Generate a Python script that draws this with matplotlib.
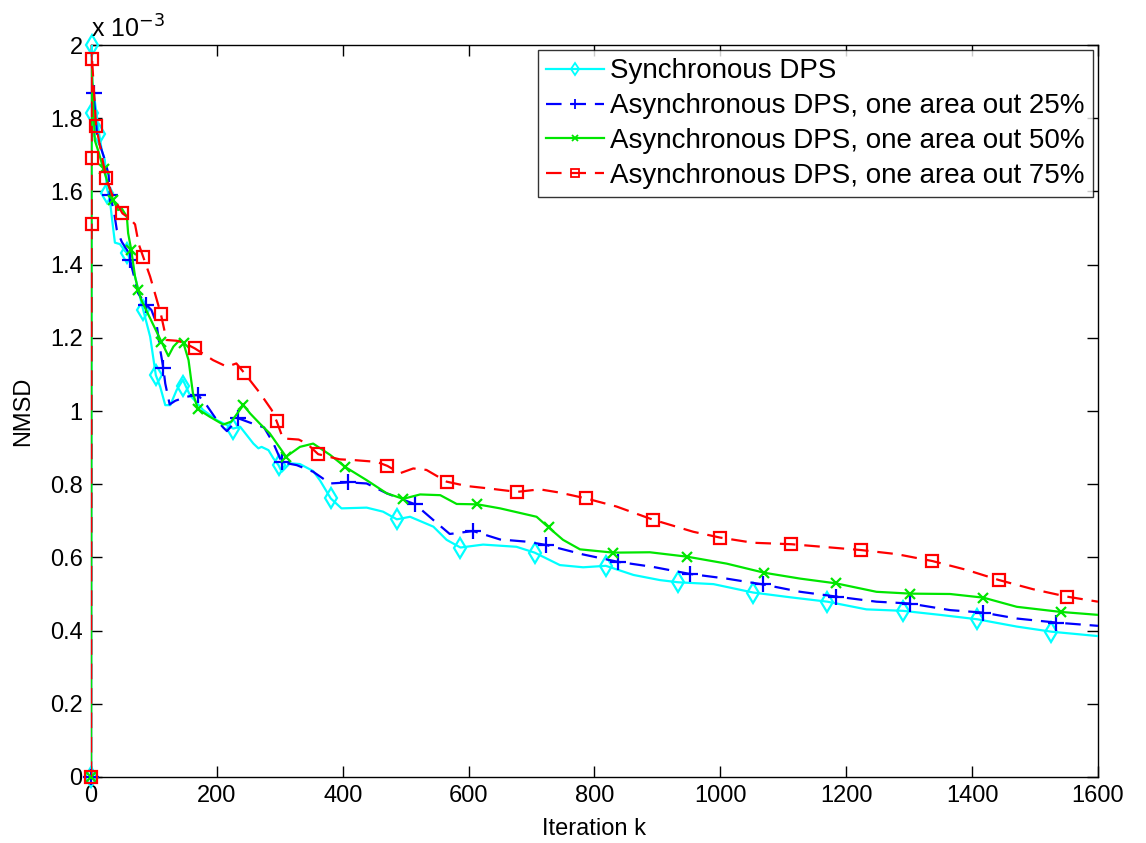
import matplotlib
matplotlib.use("Agg")
import matplotlib.pyplot as plt
from matplotlib.lines import Line2D
from matplotlib.ticker import FuncFormatter

plt.rcParams['font.family'] = ['Liberation Sans', 'DejaVu Sans']

# NMSD values are in units of 1e-3 (as on the axis)
sync_k = [0, 1, 2, 13, 17, 22, 25, 30, 33, 38, 46, 54, 58, 62, 70, 83, 94, 103, 110, 118, 126,
          136, 146, 157, 178, 200, 221, 226, 237, 258, 266, 271, 282, 290, 298, 303, 316, 332,
          353, 364, 381, 398, 438, 464, 486, 507, 544, 565, 587, 623, 676, 705, 745, 782, 818,
          862, 904, 933, 989, 1052, 1111, 1170, 1232, 1290, 1349, 1408, 1471, 1526, 1600]
sync_v = [0, 2.0, 1.90, 1.757, 1.713, 1.686, 1.61, 1.577, 1.531, 1.46, 1.456, 1.437, 1.431, 1.413,
          1.367, 1.276, 1.203, 1.098, 1.066, 1.016, 1.016, 1.057, 1.085, 1.044, 1.003, 0.975,
          0.957, 0.952, 0.957, 0.911, 0.898, 0.902, 0.893, 0.870, 0.852, 0.834, 0.857, 0.855,
          0.836, 0.81, 0.761, 0.734, 0.736, 0.725, 0.704, 0.711, 0.684, 0.648, 0.627, 0.635,
          0.629, 0.613, 0.579, 0.573, 0.577, 0.552, 0.538, 0.532, 0.527, 0.504, 0.491, 0.479,
          0.458, 0.454, 0.443, 0.431, 0.411, 0.397, 0.385]
sync_mk = [0, 1, 2, 13, 26, 58, 83, 103, 146, 226, 298, 381, 486, 587, 705, 818, 933, 1052,
           1170, 1290, 1408, 1526]
sync_mv = [0, 2.0, 1.813, 1.757, 1.595, 1.431, 1.276, 1.098, 1.068, 0.952, 0.852, 0.761, 0.704,
           0.627, 0.613, 0.577, 0.532, 0.504, 0.479, 0.454, 0.431, 0.397]

a25_k = [0, 1, 4, 10, 22, 28, 30, 36, 41, 49, 59, 62, 75, 88, 96, 104, 110, 115, 118, 125, 134,
         152, 170, 184, 200, 210, 216, 234, 253, 275, 290, 303, 327, 353, 380, 409, 438, 470, 515,
         544, 570, 607, 650, 692, 723, 782, 837, 893, 951, 1010, 1068, 1127, 1184, 1248, 1301,
         1365, 1418, 1471, 1533, 1600]
a25_v = [0, 1.90, 1.868, 1.75, 1.686, 1.645, 1.59, 1.55, 1.495, 1.462, 1.435, 1.413, 1.321, 1.29,
         1.276, 1.24, 1.167, 1.117, 1.075, 1.018, 1.028, 1.039, 1.044, 1.015, 0.975, 0.955, 0.945,
         0.980, 0.968, 0.955, 0.911, 0.86, 0.852, 0.834, 0.802, 0.805, 0.802, 0.775, 0.745, 0.702,
         0.664, 0.672, 0.649, 0.643, 0.634, 0.608, 0.588, 0.574, 0.555, 0.542, 0.526, 0.506, 0.493,
         0.479, 0.474, 0.456, 0.449, 0.433, 0.422, 0.413]
a25_mk = [0, 4, 30, 62, 88, 115, 170, 234, 303, 409, 515, 607, 723, 837, 951, 1068, 1184, 1301,
          1418, 1533]
a25_mv = [0, 1.868, 1.59, 1.413, 1.29, 1.117, 1.044, 0.980, 0.86, 0.805, 0.745, 0.672, 0.634,
          0.588, 0.555, 0.526, 0.493, 0.474, 0.449, 0.422]

a50_k = [0, 1, 6, 12, 20, 35, 43, 49, 57, 59, 64, 70, 75, 80, 112, 123, 131, 141, 147, 155, 162,
         170, 189, 210, 223, 242, 253, 268, 284, 310, 332, 353, 380, 404, 438, 470, 496, 523, 555,
         581, 614, 650, 708, 727, 750, 777, 830, 888, 947, 1010, 1070, 1127, 1184, 1248, 1302,
         1365, 1418, 1471, 1541, 1600]
a50_v = [0, 1.95, 1.74, 1.708, 1.66, 1.577, 1.549, 1.553, 1.531, 1.486, 1.44, 1.367, 1.331, 1.303,
         1.189, 1.150, 1.176, 1.194, 1.185, 1.139, 1.048, 1.005, 0.984, 0.963, 0.971, 1.016, 0.993,
         0.966, 0.939, 0.875, 0.902, 0.911, 0.880, 0.847, 0.811, 0.775, 0.760, 0.772, 0.770, 0.746,
         0.745, 0.734, 0.711, 0.682, 0.648, 0.622, 0.613, 0.614, 0.602, 0.583, 0.558, 0.542, 0.529,
         0.506, 0.501, 0.500, 0.490, 0.465, 0.451, 0.443]
a50_mk = [0, 20, 35, 64, 75, 112, 147, 170, 242, 310, 404, 496, 614, 727, 830, 947, 1070, 1184,
          1302, 1418, 1541]
a50_mv = [0, 1.66, 1.577, 1.44, 1.331, 1.189, 1.185, 1.005, 1.016, 0.875, 0.847, 0.760, 0.745,
          0.682, 0.613, 0.602, 0.558, 0.529, 0.501, 0.490, 0.451]

a75_k = [0, 1, 8, 17, 24, 35, 50, 62, 70, 76, 83, 94, 111, 120, 136, 147, 165, 194, 216, 231, 243,
         268, 287, 295, 305, 330, 343, 361, 395, 417, 454, 471, 491, 512, 533, 565, 597, 629, 677,
         713, 745, 787, 835, 893, 957, 1000, 1052, 1113, 1169, 1224, 1280, 1337, 1391, 1443, 1497,
         1550, 1600]
a75_v = [0, 1.98, 1.78, 1.70, 1.636, 1.585, 1.54, 1.525, 1.51, 1.455, 1.421, 1.367, 1.265, 1.194,
         1.192, 1.187, 1.171, 1.139, 1.121, 1.13, 1.105, 1.05, 1.003, 0.972, 0.925, 0.922, 0.911,
         0.882, 0.868, 0.866, 0.861, 0.85, 0.83, 0.843, 0.839, 0.807, 0.795, 0.789, 0.779, 0.786,
         0.777, 0.761, 0.739, 0.703, 0.670, 0.654, 0.640, 0.636, 0.628, 0.620, 0.609, 0.590, 0.566,
         0.538, 0.513, 0.493, 0.479]
a75_mk = [0, 1, 1, 2, 8, 24, 50, 83, 111, 165, 243, 295, 361, 471, 565, 677, 787, 893, 1000, 1113,
          1224, 1337, 1443, 1550]
a75_mv = [0, 1.51, 1.69, 1.962, 1.78, 1.636, 1.54, 1.421, 1.265, 1.171, 1.105, 0.972, 0.882, 0.85,
          0.807, 0.779, 0.761, 0.703, 0.654, 0.636, 0.620, 0.590, 0.538, 0.493]

labels = ["Synchronous DPS",
          "Asynchronous DPS, one area out 25%",
          "Asynchronous DPS, one area out 50%",
          "Asynchronous DPS, one area out 75%"]

fig = plt.figure(figsize=(11.46, 8.43), dpi=100)
ax = fig.add_axes([0.0794, 0.0783, 0.8787, 0.8683])

styles = [
    (sync_k, sync_v, sync_mk, sync_mv, '#00ffff', '-', 'd', 10),
    (a25_k, a25_v, a25_mk, a25_mv, '#0000ff', (0, (7, 4)), '+', 12),
    (a50_k, a50_v, a50_mk, a50_mv, '#00e600', '-', 'x', 7),
    (a75_k, a75_v, a75_mk, a75_mv, '#ff0000', (0, (7, 4)), 's', 9),
]

handles = []
for (k, v, mk, mv, col, ls, m, ms), lab in zip(styles, labels):
    ax.plot(k, v, color=col, ls=ls, lw=1.6, zorder=3)
    ax.plot(mk, mv, ls='none', marker=m, ms=ms, mec=col, mfc='none', mew=1.6, zorder=3,
            clip_on=False)
    handles.append(Line2D([], [], color=col, ls=ls, lw=1.6, marker=m, ms=ms * 0.6,
                          mec=col, mfc='none', mew=1.3))

ax.set_xlim(0, 1600)
ax.set_ylim(0, 2)
ax.set_xticks(range(0, 1601, 200))
ax.set_yticks([i * 0.2 for i in range(11)])
ax.yaxis.set_major_formatter(FuncFormatter(lambda y, p: '%g' % round(y, 1)))
ax.tick_params(direction='in', length=8, width=1, top=True, right=True, labelsize=17, pad=6)
for s in ax.spines.values():
    s.set_linewidth(1)

ax.set_xlabel('Iteration k', fontsize=17, labelpad=8)
ax.set_ylabel('NMSD', fontsize=17, labelpad=11)
ax.text(0.0, 1.003, r'x 10$^{-3}$', transform=ax.transAxes, fontsize=18, ha='left', va='bottom')

leg = ax.legend(handles, labels, loc='upper right', fontsize=20, frameon=True, fancybox=False,
                edgecolor='black', borderaxespad=0.18, handlelength=2.1, handletextpad=0.2,
                labelspacing=0.32, borderpad=0.3)
leg.get_frame().set_linewidth(1)
leg.set_zorder(5)

fig.savefig('out.png', dpi=100)
